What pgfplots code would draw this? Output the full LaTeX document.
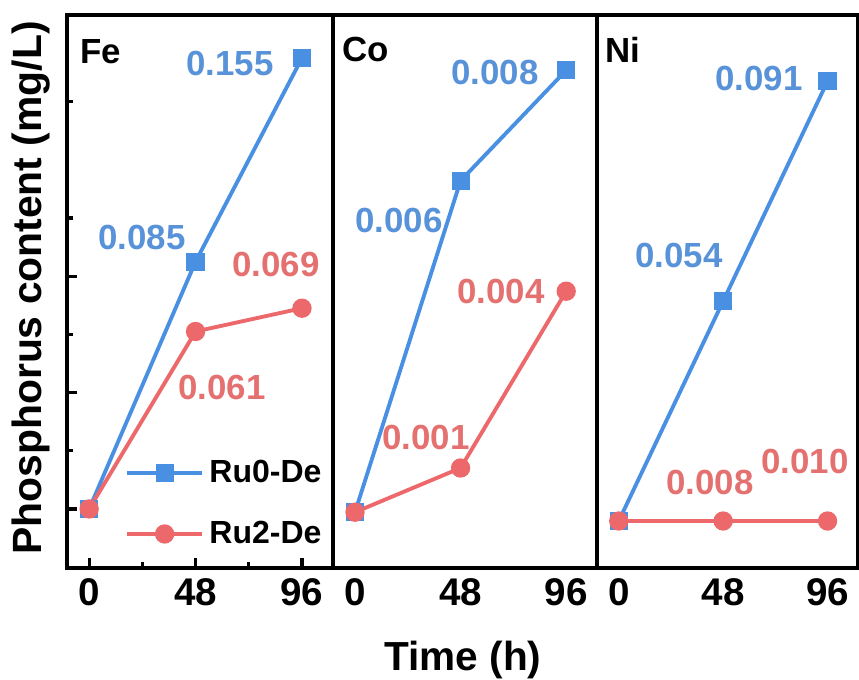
\documentclass[border=0pt]{standalone}
\usepackage{fontspec}
\setmainfont{Liberation Sans}
\usepackage{pgfplots}
\pgfplotsset{compat=1.18}
\definecolor{cblue}{RGB}{74,144,226}
\definecolor{cred}{RGB}{236,104,106}
\definecolor{tblue}{RGB}{88,146,216}
\definecolor{tred}{RGB}{228,112,112}

\pgfplotsset{
  panel/.style={
    scale only axis, height=193.55pt,
    xmin=-10, xmax=110,
    axis line style={line width=1.4pt},
    xtick={0,48,96}, xticklabels={0,48,96},
    xtick pos=bottom,
    xticklabel style={font=\fontsize{13.5}{15}\selectfont\bfseries},
    tick style={black, line width=1.1pt},
    tick align=inside,
    scaled y ticks=false,
    every axis plot/.append style={line width=1.35pt},
  },
  blueline/.style={color=cblue, mark=square*, mark size=2.5pt},
  redline/.style={color=cred, mark=*, mark size=2.7pt},
}

\begin{document}
\begin{tikzpicture}
\path[use as bounding box] (-23.45pt,-39.2pt) rectangle (277.2pt,198.8pt);

% Fe
\begin{axis}[panel, at={(0pt,0pt)}, anchor=south west, width=93.1pt,
  ymin=-0.0203, ymax=0.1698,
  ytick pos=left,
  minor xtick={24,72},
  ytick={0,0.04,0.08}, minor ytick={0.02,0.06,0.10,0.14},
  yticklabels={,,},
  major tick length=3.5pt, minor tick length=2pt,
  legend cell align=left,
  legend image code/.code={\draw[mark repeat=2,mark phase=2] plot coordinates {(0pt,0pt)(13pt,0pt)(26pt,0pt)};},
  legend style={draw=none, fill=none, at={(rel axis cs:0.218,0.1166)}, anchor=west,
    inner sep=0pt, font=\fontsize{11.2}{13}\selectfont\bfseries,
    row sep=12pt, column sep=2pt, nodes={inner sep=0pt}}]
\addplot[blueline] coordinates {(0,0) (48,0.085) (96,0.155)};
\addlegendentry{Ru0-De}
\addplot[redline] coordinates {(0,0) (48,0.061) (96,0.069)};
\addlegendentry{Ru2-De}
\end{axis}

% Co
\begin{axis}[panel, at={(93.1pt,0pt)}, anchor=south west, width=92.4pt,
  ymin=-0.00101, ymax=0.0090, ytick=\empty, major tick length=0pt]
\addplot[blueline] coordinates {(0,0) (48,0.006) (96,0.008)};
\addplot[redline] coordinates {(0,0) (48,0.0008) (96,0.004)};
\end{axis}

% Ni
\begin{axis}[panel, at={(185.5pt,0pt)}, anchor=south west, width=91.35pt,
  ymin=-0.00972, ymax=0.1047, ytick=\empty, major tick length=0pt]
\addplot[blueline] coordinates {(0,0) (48,0.0455) (96,0.091)};
\addplot[redline] coordinates {(0,0) (48,0) (96,0)};
\end{axis}

% labels, placed in image pixels
\begin{scope}[x=0.35pt, y=-0.35pt, shift={(-67,-568)},
  lab/.style={font=\fontsize{12.2}{14}\selectfont\bfseries, inner sep=0pt}]
  \node[lab, anchor=west] at (80,52) {Fe};
  \node[lab, anchor=west] at (342,50) {Co};
  \node[lab, anchor=west] at (605,50) {Ni};
  \node[lab, tblue] at (230,64) {0.155};
  \node[lab, tblue] at (142,238) {0.085};
  \node[lab, tred] at (276,265) {0.069};
  \node[lab, tred] at (222,388) {0.061};
  \node[lab, tblue] at (495,73) {0.008};
  \node[lab, tblue] at (399,221) {0.006};
  \node[lab, tred] at (501,292) {0.004};
  \node[lab, tred] at (426,438) {0.001};
  \node[lab, tblue] at (759,79) {0.091};
  \node[lab, tblue] at (679,256) {0.054};
  \node[lab, tred] at (710,483) {0.008};
  \node[lab, tred] at (805,462) {0.010};
  \node[font=\fontsize{14.2}{16}\selectfont\bfseries, inner sep=0pt] at (463,660) {Time (h)};
  \node[font=\fontsize{14.3}{16}\selectfont\bfseries, inner sep=0pt, rotate=90] at (31,288) {Phosphorus content (mg/L)};
\end{scope}
\end{tikzpicture}
\end{document}
